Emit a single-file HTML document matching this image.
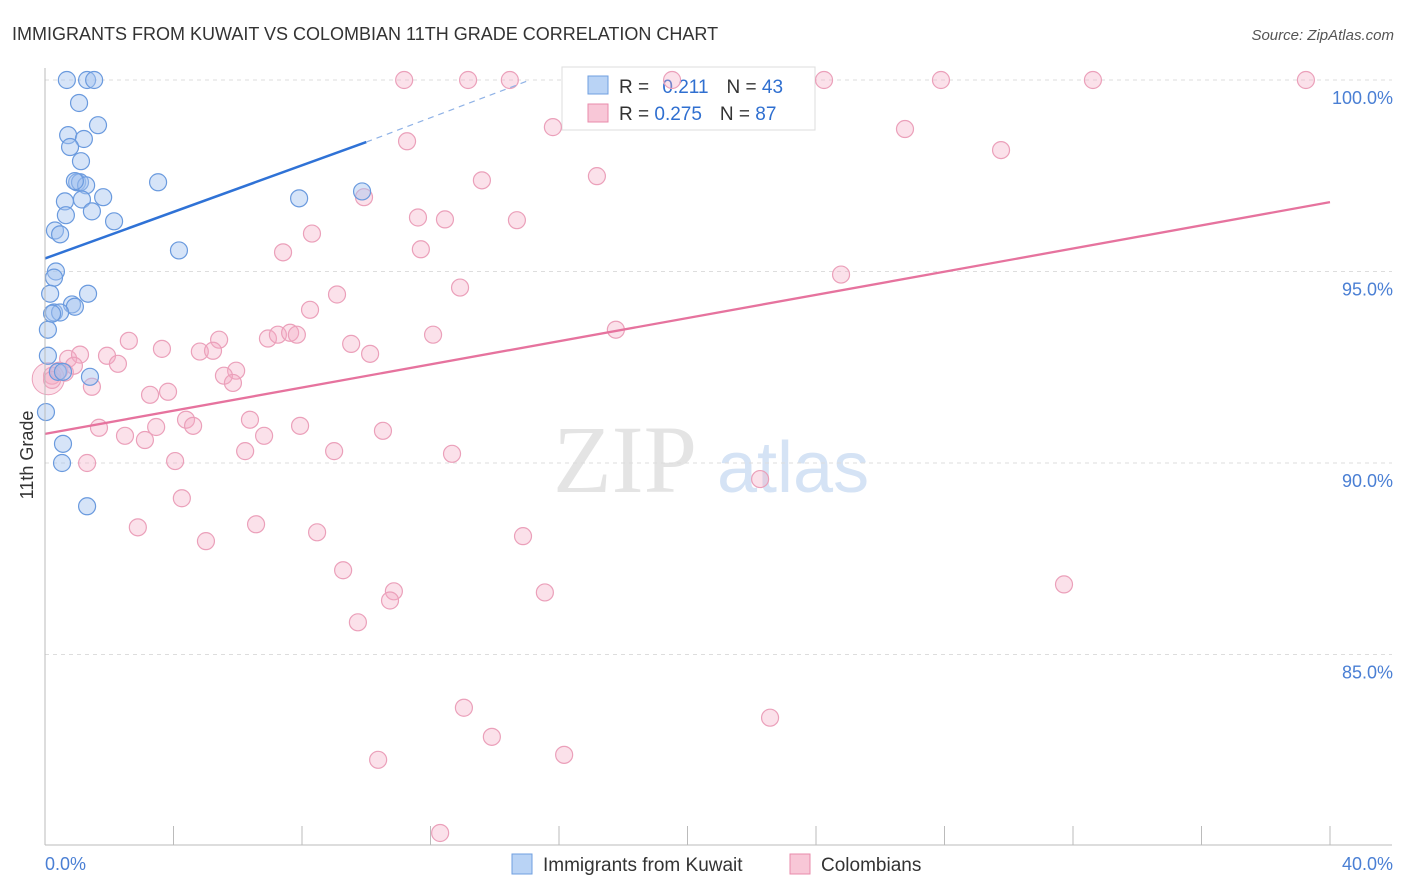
<!DOCTYPE html>
<html><head><meta charset="utf-8">
<style>
body{margin:0;background:#fff;font-family:"Liberation Sans",sans-serif;}
#wrap{position:relative;width:1406px;height:892px;overflow:hidden;}
</style></head>
<body>
<div id="wrap">
<svg id="svg" width="1406" height="892">
  <text x="12" y="40" font-size="18" fill="#333">IMMIGRANTS FROM KUWAIT VS COLOMBIAN 11TH GRADE CORRELATION CHART</text>
  <text x="1394" y="40" font-size="15" fill="#555" font-style="italic" text-anchor="end">Source: ZipAtlas.com</text>
  <text x="33" y="455" font-size="18" fill="#333" text-anchor="middle" transform="rotate(-90 33 455)">11th Grade</text>
  <g>
    <text x="553" y="492" font-size="96" fill="#e4e4e4" font-family="Liberation Serif,serif">ZIP</text>
    <text x="717" y="492" font-size="72" fill="#d5e3f5">atlas</text>
  </g>
  <g id="grid"></g>
  <g>
    <rect x="562" y="67" width="253" height="63" fill="#fff" stroke="#ddd"/>
    <rect x="588" y="76" width="20" height="18" fill="#b9d3f5" stroke="#6f9fe0"/>
    <text x="619" y="93" font-size="19" fill="#333">R = <tspan fill="#2f6fd0" dx="8">0.211</tspan><tspan dx="18">N = </tspan><tspan fill="#2f6fd0">43</tspan></text>
    <rect x="588" y="104" width="20" height="18" fill="#f8c7d7" stroke="#e98bab"/>
    <text x="619" y="120" font-size="19" fill="#333">R = <tspan fill="#2f6fd0">0.275</tspan><tspan dx="18">N = </tspan><tspan fill="#2f6fd0">87</tspan></text>
  </g>
  <g id="pts"></g><g id="lines"></g><g id="axes"></g>
  <g>
    <rect x="512" y="854" width="20" height="20" fill="#b9d3f5" stroke="#6f9fe0"/>
    <text x="543" y="871" font-size="19" fill="#333">Immigrants from Kuwait</text>
    <rect x="790" y="854" width="20" height="20" fill="#f8c7d7" stroke="#e98bab"/>
    <text x="821" y="871" font-size="19" fill="#333">Colombians</text>
  </g>
</svg>
</div>
<script>
const yTicks=[85,90,95,100];
const yTickLabels=["85.0%","90.0%","95.0%","100.0%"];
const xTickLabels=["0.0%","40.0%"];
const blueX=[0.68,1.31,1.53,1.06,0.72,1.21,0.78,1.65,1.12,1.0,1.09,1.28,1.81,1.15,0.62,0.65,1.46,2.15,0.31,0.47,3.52,4.17,7.91,9.87,0.34,0.28,0.16,1.34,0.84,0.93,0.28,0.47,0.09,0.09,0.40,1.4,0.03,0.56,0.53,1.31,0.93,0.22,0.56];
const blueY=[100,100,100,99.4,98.56,98.46,98.25,98.82,97.88,97.33,97.33,97.25,96.94,96.88,96.83,96.47,96.57,96.31,96.07,95.97,97.33,95.55,96.91,97.09,95.0,94.84,94.42,94.42,94.14,94.08,93.93,93.93,93.48,92.8,92.38,92.25,91.33,90.5,90.0,88.87,97.36,93.9,92.38];
const pinkX=[11.18,13.17,14.47,19.52,24.25,27.89,32.62,39.25,15.81,26.77,11.27,29.76,17.18,13.6,9.93,11.61,12.45,14.69,8.31,7.41,11.70,24.78,12.92,9.09,8.25,12.08,17.77,2.61,5.42,6.94,7.25,7.63,7.84,9.53,3.64,10.12,4.82,5.23,1.93,0.72,1.09,2.27,5.95,5.57,5.85,0.44,0.22,0.62,0.90,1.46,3.27,3.83,6.38,4.39,4.61,7.94,1.68,10.52,3.46,2.49,3.11,6.82,6.23,9.0,12.67,4.05,1.31,22.26,4.26,2.89,6.57,8.47,14.88,5.01,9.28,10.86,10.74,15.56,31.72,9.74,13.04,22.57,13.91,10.37,16.16,12.30,0.22];
const pinkY=[100,100,100,100,100,100,100,100,98.77,98.72,98.40,98.17,97.49,97.38,96.94,96.41,96.36,96.34,95.99,95.50,95.58,94.92,94.58,94.40,94.0,93.35,93.48,93.19,93.22,93.25,93.35,93.40,93.35,93.11,92.98,92.85,92.91,92.93,92.80,92.72,92.83,92.59,92.41,92.28,92.09,92.41,92.28,92.36,92.54,91.99,91.78,91.86,91.13,91.13,90.97,90.97,90.92,90.84,90.94,90.71,90.60,90.71,90.31,90.31,90.24,90.05,90.0,89.58,89.08,88.32,88.40,88.19,88.09,87.96,87.20,86.65,86.41,86.62,86.83,85.84,83.61,83.35,82.85,82.25,82.38,80.34,92.17];
const blueTrend=[95.34,98.38,100];
const blueTrendX=[0,10,15.1];
const pinkTrend=[90.76,96.81];
const pinkTrendX=[0,40];

const NS="http://www.w3.org/2000/svg";
const sx=v=>45+v/40*1285;
const sy=v=>80+(100-v)*38.3;
function mk(tag,attrs,parent){const e=document.createElementNS(NS,tag);for(const k in attrs)e.setAttribute(k,attrs[k]);parent.appendChild(e);return e;}
const grid=document.getElementById('grid'),pts=document.getElementById('pts'),lines=document.getElementById('lines'),axes=document.getElementById('axes');
yTicks.forEach((t,i)=>{
  const l=mk('line',{x1:45,x2:1392,y1:sy(t),y2:sy(t),stroke:'#ddd','stroke-dasharray':'4,4'},grid);
  
  
  const tx=mk('text',{x:1393,y:sy(t)+24,'font-size':18,fill:'#4a7fd4','text-anchor':'end'},axes);
  tx.textContent=yTickLabels[i];
  
  
});
const ax=mk('line',{x1:45,x2:45,y1:68,y2:845,stroke:'#bbb'},axes);


const bx=mk('line',{x1:45,x2:1392,y1:845,y2:845,stroke:'#bbb'},axes);


for(let i=0;i<=10;i++){
  const t=mk('line',{x1:sx(i*4),x2:sx(i*4),y1:826,y2:845,stroke:'#bbb'},axes);
  
  
}
[[0,'start',45],[40,'end',1393]].forEach((d,i)=>{
  const t=mk('text',{x:d[2],y:870,'font-size':18,fill:'#4a7fd4','text-anchor':d[1]},axes);
  t.textContent=xTickLabels[i];
  
  
});
pinkX.forEach((x,i)=>{
  const c=mk('circle',{cx:sx(x),cy:sy(pinkY[i]),r:8.5,fill:'rgba(244,170,195,0.35)',stroke:'#eba0ba','stroke-width':1.2},pts);
  
  
});
const big=mk('circle',{cx:sx(0.1),cy:sy(92.2),r:16,fill:'rgba(244,170,195,0.35)',stroke:'#eba0ba'},pts);


blueX.forEach((x,i)=>{
  const c=mk('circle',{cx:sx(x),cy:sy(blueY[i]),r:8.5,fill:'rgba(164,196,240,0.45)',stroke:'#6a9ade','stroke-width':1.2},pts);
  
  
});
const b1=mk('line',{x1:sx(blueTrendX[0]),y1:sy(blueTrend[0]),x2:sx(blueTrendX[1]),y2:sy(blueTrend[1]),stroke:'#2f72d6','stroke-width':2.5},lines);


const b2=mk('line',{x1:sx(blueTrendX[1]),y1:sy(blueTrend[1]),x2:sx(blueTrendX[2]),y2:sy(blueTrend[2]),stroke:'#8fb2e6','stroke-width':1.2,'stroke-dasharray':'6,5'},lines);


const p1=mk('line',{x1:sx(pinkTrendX[0]),y1:sy(pinkTrend[0]),x2:sx(pinkTrendX[1]),y2:sy(pinkTrend[1]),stroke:'#e6739e','stroke-width':2.3},lines);


</script>
</body></html>
